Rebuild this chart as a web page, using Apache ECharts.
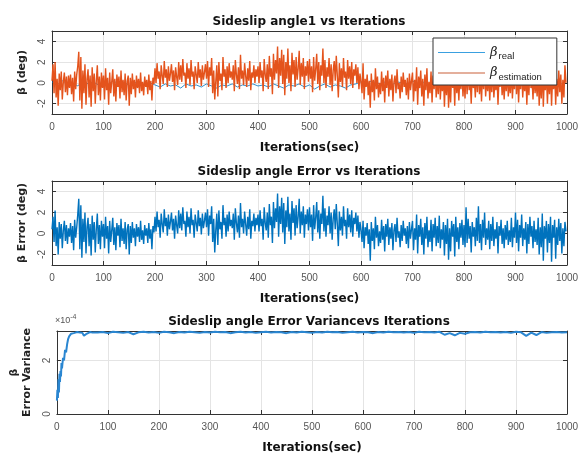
<!DOCTYPE html>
<html>
<head>
<meta charset="utf-8">
<script src="https://cdn.jsdelivr.net/npm/echarts@6/dist/echarts.min.js"></script>
<style>
html, body { margin: 0; padding: 0; background: #fff; }
#chart { width: 585px; height: 455px; }
</style>
</head>
<body>
<div id="chart"></div>
<script>
// sample spacing of the noisy series (iterations)
const iterStep = 2;
const realStep = 10;

// plot 1: estimated sideslip angle (deg), one value every 2 iterations, 50 iterations per row
const betaEstimation = [
    0.2, 1.8, -1.0, 2.0, -1.4, 0.4, -2.2, 0.9, -0.7, 1.1, -1.6, 0.1, 1.0, -0.9, 0.6, -1.2, 0.7, -0.5, 0.8, -1.1, 0.5, -1.8, 1.1, -0.6, 0.8,
    1.6, 3.0, -1.7, 2.5, -2.5, 1.2, -1.0, 1.8, -2.1, 0.4, 1.3, -1.4, 0.7, -2.3, 1.5, -0.8, 0.9, -2.0, 0.2, 1.7, -1.2, 0.6, -1.7, 1.0, -0.5,
    0.7, -1.6, 1.4, -0.7, 0.5, -2.1, 1.0, -1.0, 0.1, 1.3, -1.3, 0.4, -1.8, 0.8, -0.4, 0.6, -1.5, 1.2, -0.9, 0.3, -1.2, 0.9, -1.7, 0.2, 0.7,
    -2.2, 0.5, -1.1, 0.9, -0.6, 0.3, -1.4, 0.7, -0.5, 0.4, -1.0, 1.0, -0.8, 0.1, -1.2, 0.6, -0.4, 0.3, -1.1, 0.8, -0.7, 0.2, -1.7, 0.5, -0.1,
    1.4, 0.0, 1.9, 0.4, 1.1, -0.6, 1.7, 0.7, -0.1, 2.1, 0.5, 1.3, -0.4, 1.6, 0.2, 0.9, 1.8, 0.1, 1.2, -0.7, 1.5, 0.6, -0.2, 2.0, 0.3,
    1.7, 0.1, 2.3, 0.7, 1.0, -0.5, 1.9, 0.4, 1.4, -0.2, 2.2, 0.6, 1.1, -0.6, 1.6, 0.8, 0.0, 2.0, 0.5, 1.3, -0.3, 1.7, 0.3, 1.0, 1.8,
    0.4, 2.1, -0.4, 1.5, 0.7, 2.4, -1.0, 1.2, -1.6, 0.1, 1.7, -1.3, 2.0, 0.2, 0.9, -0.7, 2.5, 0.6, 1.3, -0.5, 1.6, 0.0, 1.9, 0.5, 1.1,
    0.3, 1.7, -0.8, 2.2, 0.8, -0.1, 1.5, -0.6, 2.7, 0.4, 1.2, -0.2, 1.9, 0.7, -0.4, 1.4, 0.2, 2.1, -0.7, 1.0, 0.5, 1.7, 0.0, 1.3, 0.6,
    1.6, 0.0, 2.0, 0.5, 1.2, -0.8, 2.3, 0.8, 0.1, 1.8, -0.6, 2.6, 0.6, 1.4, -1.1, 2.8, 0.3, 2.2, 0.9, 3.5, -0.5, 2.4, 0.7, 3.2, -0.1,
    2.7, -1.2, 2.0, 0.4, 3.3, 0.0, 1.7, -0.8, 2.9, 0.8, 2.2, -0.4, 2.5, 0.3, 1.4, 3.1, -0.2, 1.9, 0.6, 2.4, -0.6, 1.6, 0.7, 2.1, 0.1,
    2.3, 0.4, 1.6, -0.9, 2.5, 0.2, 1.3, 2.8, -0.1, 2.0, -0.7, 1.7, 0.7, 3.3, 0.0, 2.2, -0.5, 1.5, 0.6, 2.4, -0.2, 1.8, -0.8, 1.2, 2.1,
    0.2, 2.6, 0.7, -1.4, 1.9, 0.1, 1.4, -0.4, 2.4, 0.5, 1.1, -0.7, 2.2, 0.4, 1.6, -0.1, 2.0, -0.5, 1.3, 0.7, 1.8, 0.0, 1.5, -0.6, 0.9,
    0.1, -1.0, 1.9, -1.6, 0.4, -0.4, 0.8, -1.2, 0.2, -2.4, 0.9, -0.9, 0.3, -1.7, 1.4, -0.6, 0.6, -1.4, 0.0, -1.1, 1.1, -0.8, 0.5, -1.9, 0.7,
    -0.5, 1.2, -1.3, 0.4, -0.7, 0.8, -1.8, 0.1, 0.7, -1.0, 1.3, -0.6, 0.0, -1.5, 0.6, -0.9, 1.0, -0.4, 0.3, -1.2, 0.5, -1.6, 0.9, -0.7, 0.2,
    1.0, -1.8, 0.3, -0.8, 1.5, -2.1, 0.6, -0.5, 1.2, -1.3, 0.4, -2.2, 0.8, -0.7, 1.4, -1.5, 0.1, -1.0, 1.1, -1.9, 0.7, -0.6, 1.3, -1.4, 0.5,
    -1.1, 1.5, -1.6, 0.2, -0.8, 0.9, -2.3, 0.6, -1.2, 1.2, -2.4, 0.3, -1.9, 1.0, -0.5, 0.7, -2.2, 1.4, -1.0, 0.4, -1.7, 0.8, -0.6, 1.1, -1.3,
    0.6, -1.5, 1.6, -1.1, 1.2, -0.7, 0.5, -2.0, 0.9, -0.5, 0.4, -1.4, 1.3, -0.9, 1.5, -1.1, 0.7, -1.8, 1.1, -0.6, 1.4, -1.3, 0.3, -0.8, 1.0,
    -1.7, 0.7, -0.9, 1.4, -1.4, 0.2, -0.7, 0.9, -2.1, 0.5, -0.4, 1.1, -1.2, 0.3, -1.6, 0.6, -0.8, 1.0, -1.3, 0.1, -1.0, 1.3, -1.5, 0.4, -0.6,
    1.5, -1.1, 1.1, -1.9, 0.6, -0.6, 1.4, -1.4, 0.3, -0.8, 0.9, -2.1, 0.7, -1.2, 1.3, -0.5, 0.5, -1.6, 1.0, -1.0, 0.2, -1.3, 1.2, -2.2, 0.4,
    -1.5, 1.5, -2.3, 0.5, -0.7, 1.0, -2.0, 0.7, -1.1, 1.4, -2.2, 0.6, -0.6, 1.1, -2.1, 0.4, -1.3, 1.2, -0.9, 0.8, -2.0, 0.3, -1.4, 1.7, 0.0
];

// plot 1: real sideslip angle (deg), one value every 10 iterations
const betaReal = [
    0.1, -0.2, 0.2, -0.1, 0.0, -0.3, 0.2, -0.1, 0.1, -0.2,
    0.0, -0.1, 0.2, -0.2, 0.1, -0.3, 0.0, 0.1, -0.2, 0.0,
    -0.2, -0.4, -0.1, -0.3, -0.2, -0.5, -0.1, -0.3, -0.2, -0.4,
    -0.1, -0.3, -0.5, -0.2, -0.3, -0.1, -0.4, -0.2, -0.3, -0.1,
    -0.3, -0.2, -0.4, -0.1, -0.3, -0.5, -0.2, -0.3, -0.1, -0.4,
    -0.2, -0.6, -0.3, -0.1, -0.4, -0.2, -0.3, -0.5, -0.2, -0.1,
    0.1, -0.2, 0.2, 0.0, -0.1, 0.2, -0.2, 0.1, 0.0, -0.1,
    0.2, -0.1, 0.1, -0.2, 0.0, 0.1, -0.1, 0.2, -0.2, 0.0,
    0.1, -0.1, 0.2, 0.0, -0.2, 0.1, -0.1, 0.2, 0.0, -0.1,
    0.1, -0.2, 0.0, 0.2, -0.1, 0.1, -0.2, 0.0, 0.1, -0.1
];

// plot 2: sideslip angle error (deg), one value every 2 iterations, 50 iterations per row
const betaError = [
    0.4, 1.6, -0.8, 2.2, -1.2, 0.6, -2.0, 1.1, -0.5, 0.9, -1.4, 0.3, 1.2, -0.7, 0.8, -1.0, 0.5, -0.3, 1.0, -0.9, 0.7, -1.6, 1.3, -0.4, 0.6,
    1.8, 3.3, -1.5, 2.7, -2.3, 1.4, -0.8, 2.0, -1.9, 0.6, 1.5, -1.2, 0.9, -2.1, 1.7, -0.6, 1.1, -1.8, 0.4, 1.9, -1.0, 0.8, -1.5, 1.2, -0.3,
    0.9, -1.4, 1.6, -0.5, 0.7, -1.9, 1.2, -0.8, 0.3, 1.5, -1.1, 0.6, -1.6, 1.0, -0.2, 0.8, -1.3, 1.4, -0.7, 0.5, -1.0, 1.1, -1.5, 0.4, 0.9,
    -2.0, 0.7, -0.9, 1.1, -0.4, 0.5, -1.2, 0.9, -0.3, 0.6, -0.8, 1.2, -0.6, 0.3, -1.0, 0.8, -0.2, 0.5, -0.9, 1.0, -0.5, 0.4, -1.5, 0.7, 0.1,
    1.6, 0.2, 2.1, 0.6, 1.3, -0.4, 1.9, 0.9, 0.1, 2.3, 0.7, 1.5, -0.2, 1.8, 0.4, 1.1, 2.0, 0.3, 1.4, -0.5, 1.7, 0.8, 0.0, 2.2, 0.5,
    1.9, 0.3, 2.5, 0.9, 1.2, -0.3, 2.1, 0.6, 1.6, 0.0, 2.4, 0.8, 1.3, -0.4, 1.8, 1.0, 0.2, 2.2, 0.7, 1.5, -0.1, 1.9, 0.5, 1.2, 2.0,
    0.6, 2.3, -0.2, 1.7, 0.9, 2.6, -0.8, 1.4, -1.8, 0.3, 1.9, -1.1, 2.2, 0.4, 1.1, -0.5, 2.7, 0.8, 1.5, -0.3, 1.8, 0.2, 2.1, 0.7, 1.3,
    0.5, 1.9, -0.6, 2.4, 1.0, 0.1, 1.7, -0.4, 2.9, 0.6, 1.4, 0.0, 2.1, 0.9, -0.2, 1.6, 0.4, 2.3, -0.5, 1.2, 0.7, 1.9, 0.2, 1.5, 0.8,
    1.8, 0.2, 2.2, 0.7, 1.4, -0.6, 2.5, 1.0, 0.3, 2.0, -0.4, 2.8, 0.8, 1.6, -0.9, 3.0, 0.5, 2.4, 1.1, 3.8, -0.3, 2.6, 0.9, 3.4, 0.1,
    2.9, -1.0, 2.2, 0.6, 3.5, 0.2, 1.9, -0.6, 3.1, 1.0, 2.4, -0.2, 2.7, 0.5, 1.6, 3.3, 0.0, 2.1, 0.8, 2.6, -0.4, 1.8, 0.9, 2.3, 0.3,
    2.5, 0.6, 1.8, -0.7, 2.7, 0.4, 1.5, 3.0, 0.1, 2.2, -0.5, 1.9, 0.9, 3.6, 0.2, 2.4, -0.3, 1.7, 0.8, 2.6, 0.0, 2.0, -0.6, 1.4, 2.3,
    0.4, 2.8, 0.9, -1.2, 2.1, 0.3, 1.6, -0.2, 2.6, 0.7, 1.3, -0.5, 2.4, 0.6, 1.8, 0.1, 2.2, -0.3, 1.5, 0.9, 2.0, 0.2, 1.7, -0.4, 1.1,
    0.3, -0.8, 1.2, -1.4, 0.6, -0.2, 1.0, -1.0, 0.4, -2.6, 1.1, -0.7, 0.5, -1.5, 1.6, -0.4, 0.8, -1.2, 0.2, -0.9, 1.3, -0.6, 0.7, -1.7, 0.9,
    -0.3, 1.4, -1.1, 0.6, -0.5, 1.0, -1.6, 0.3, 0.9, -0.8, 1.5, -0.4, 0.2, -1.3, 0.8, -0.7, 1.2, -0.2, 0.5, -1.0, 0.7, -1.4, 1.1, -0.5, 0.4,
    1.2, -1.6, 0.5, -0.6, 1.8, -1.9, 0.8, -0.3, 1.4, -1.1, 0.6, -2.0, 1.0, -0.5, 1.6, -1.3, 0.3, -0.8, 1.3, -1.7, 0.9, -0.4, 1.5, -1.2, 0.7,
    -0.9, 1.7, -1.4, 0.4, -0.6, 1.1, -2.1, 0.8, -1.0, 1.4, -2.5, 0.5, -1.7, 1.2, -0.3, 0.9, -2.2, 1.6, -0.8, 0.6, -1.5, 1.0, -0.4, 1.3, -1.1,
    0.8, -1.3, 2.5, -0.9, 1.4, -0.5, 0.7, -1.8, 1.1, -0.3, 0.6, -1.2, 1.5, -0.7, 2.6, -0.9, 0.9, -1.6, 1.3, -0.4, 2.0, -1.1, 0.5, -0.6, 1.2,
    -1.5, 0.9, -0.7, 1.6, -1.2, 0.4, -0.5, 1.1, -1.9, 0.7, -0.2, 1.3, -1.0, 0.5, -1.4, 0.8, -0.6, 1.2, -1.1, 0.3, -0.8, 1.5, -1.3, 0.6, -0.4,
    2.0, -0.9, 1.3, -1.7, 0.8, -0.4, 1.8, -1.2, 0.5, -0.6, 1.1, -1.9, 0.9, -1.0, 1.6, -0.3, 0.7, -1.4, 1.2, -0.8, 0.4, -1.1, 1.5, -2.0, 0.6,
    -1.3, 1.9, -2.6, 0.7, -0.5, 1.2, -1.8, 0.9, -0.9, 1.6, -2.7, 0.8, -0.4, 1.3, -2.4, 0.6, -1.1, 1.4, -0.7, 1.0, -1.9, 0.5, -1.2, 1.1, 0.2
];

// plot 3: error variance (x 1e-4), start-up part
const varianceEarlyIter = [0, 1, 2, 3, 4, 5, 6, 7, 8, 9, 10, 12, 14, 16, 18, 20, 22, 24, 26, 28, 30, 33, 36, 40, 45, 50, 53, 55, 57, 60, 65, 70];
const varianceEarly = [0.5, 0.9, 0.6, 1.3, 0.8, 1.5, 1.2, 1.6, 1.4, 1.9, 1.7, 2.1, 2.0, 2.4, 2.3, 2.6, 2.8, 2.9, 2.95, 3.0, 3.04, 3.02, 3.05, 3.06, 3.04, 3.03, 2.92, 2.85, 2.98, 3.05, 3.06, 3.04];
// plot 3: steady part, iterations 80..1000 every 10
const varianceTailStart = 80;
const varianceTailStep = 10;
const varianceTail = [
    3.04, 3.06, 3.02, 3.07, 3.05, 3.03, 3.06, 2.98, 3.05, 3.07,
    3.04, 3.06, 3.03, 3.07, 3.05, 3.02, 3.06, 3.04, 3.07, 3.05,
    3.03, 3.06, 3.04, 3.07, 3.05, 3.06, 3.02, 3.05, 3.07, 3.04,
    3.06, 3.03, 3.05, 3.07, 3.04, 3.06, 3.05, 3.02, 3.06, 3.04,
    3.07, 3.05, 3.03, 3.06, 3.04, 3.07, 3.05, 3.06, 3.03, 3.05,
    3.07, 3.04, 3.06, 3.05, 3.02, 3.06, 3.04, 3.07, 3.05, 3.06,
    3.04, 3.06, 3.03, 3.07, 3.05, 3.06, 3.04, 3.07, 2.96, 3.02,
    2.94, 3.03, 3.00, 3.05, 3.06, 3.04, 3.07, 3.05, 3.06, 3.04,
    3.06, 3.03, 3.07, 3.05, 2.92, 3.04, 2.95, 3.06, 3.03, 3.05,
    3.06, 3.04, 3.05
];

const angleTicks = [-2, 0, 2, 4];
const varianceTicks = [0, 2];

const titles = ['Sideslip angle1 vs Iterations', 'Sideslip angle Error vs Iterations', 'Sideslip angle Error Variancevs Iterations'];
const yNames = ['β (deg)', 'β Error (deg)', 'β\nError Variance'];

const BLUE = '#0072BD';
const ORANGE = '#E4531C';
const AXIS = '#333';
const GRID = '#e4e4e4';
const BOLD_FONT = 'DejaVu Sans';
const TICK_FONT = 'Liberation Sans';

const gridTops = [31, 181, 331];
const gridHeights = [83, 84, 84];
const titleCenter = 304;

function toPairs(values, step) {
    return values.map((v, i) => [i * step, v]);
}

function xAxes(gridIndex) {
    return [
        {
            type: 'value', gridIndex: gridIndex, position: 'bottom',
            min: 0, max: 1000, interval: 100,
            name: 'Iterations(sec)', nameLocation: 'middle', nameGap: 28,
            nameTextStyle: { fontSize: 12, fontWeight: 'bold', color: '#111', fontFamily: BOLD_FONT },
            axisLine: { onZero: false, lineStyle: { color: AXIS } },
            axisTick: { inside: true, length: 4, lineStyle: { color: AXIS } },
            axisLabel: { fontSize: 10, color: '#555', margin: 8, fontFamily: TICK_FONT, formatter: v => String(v) },
            splitLine: { show: true, lineStyle: { color: GRID } }
        },
        {
            type: 'value', gridIndex: gridIndex, position: 'top',
            min: 0, max: 1000, interval: 100,
            axisLine: { onZero: false, lineStyle: { color: AXIS } },
            axisTick: { inside: true, length: 4, lineStyle: { color: AXIS } },
            axisLabel: { show: false },
            splitLine: { show: false }
        }
    ];
}

function yAxes(gridIndex, min, max, ticks, name, nameGap) {
    return [
        {
            type: 'value', gridIndex: gridIndex, position: 'left',
            min: min, max: max,
            name: name, nameLocation: 'middle', nameGap: nameGap, nameRotate: 90,
            nameTextStyle: { fontSize: 11, fontWeight: 'bold', color: '#222', lineHeight: 13, fontFamily: BOLD_FONT },
            axisLine: { onZero: false, lineStyle: { color: AXIS } },
            axisTick: { inside: true, length: 4, customValues: ticks, lineStyle: { color: AXIS } },
            axisLabel: { fontSize: 10, color: '#555', margin: 5, rotate: 90, customValues: ticks, fontFamily: TICK_FONT },
            splitLine: { show: true, lineStyle: { color: GRID } }
        },
        {
            type: 'value', gridIndex: gridIndex, position: 'right',
            min: min, max: max,
            axisLine: { onZero: false, lineStyle: { color: AXIS } },
            axisTick: { inside: true, length: 4, customValues: ticks, lineStyle: { color: AXIS } },
            axisLabel: { show: false },
            splitLine: { show: false }
        }
    ];
}

const varianceData = varianceEarlyIter.map((it, i) => [it, varianceEarly[i]])
    .concat(varianceTail.map((v, i) => [varianceTailStart + i * varianceTailStep, v]));

const option = {
    animation: false,
    backgroundColor: '#fff',
    title: titles.map((t, i) => ({
        text: t,
        left: titleCenter,
        top: gridTops[i] - 20,
        textAlign: 'center',
        textStyle: { fontSize: 12, fontWeight: 'bold', color: '#111', fontFamily: BOLD_FONT }
    })),
    grid: gridTops.map((top, i) => ({ left: 52, right: 18, top: top, height: gridHeights[i], containLabel: false })),
    xAxis: [].concat(xAxes(0), xAxes(1), xAxes(2)),
    yAxis: [].concat(
        yAxes(0, -3, 5, angleTicks, yNames[0], 22),
        yAxes(1, -3, 5, angleTicks, yNames[1], 22),
        yAxes(2, 0, 3.1, varianceTicks, yNames[2], 18)
    ),
    legend: {
        data: ['real', 'estimation'],
        orient: 'vertical',
        left: 433,
        top: 38,
        icon: 'rect',
        itemWidth: 47,
        itemHeight: 1.2,
        itemGap: 5,
        padding: [8, 15, 3, 5],
        backgroundColor: '#fff',
        borderColor: AXIS,
        borderWidth: 1,
        borderRadius: 0,
        formatter: name => '{b|β}{s|' + name + '}',
        textStyle: {
            rich: {
                b: { fontSize: 13, fontStyle: 'italic', color: '#222', fontFamily: 'DejaVu Serif', height: 16 },
                s: { fontSize: 9.5, color: '#222', padding: [8, 0, 0, 1], fontFamily: TICK_FONT }
            }
        }
    },
    graphic: [{
        type: 'text',
        left: 55,
        top: 314,
        style: {
            text: '{m|×10}{e|-4}',
            rich: {
                m: { fontSize: 9, fill: '#555', fontFamily: TICK_FONT },
                e: { fontSize: 7, fill: '#555', padding: [0, 0, 6, 0], fontFamily: TICK_FONT }
            }
        }
    }],
    series: [
        {
            name: 'real', type: 'line', xAxisIndex: 0, yAxisIndex: 0,
            data: toPairs(betaReal, realStep),
            symbol: 'none', lineStyle: { color: BLUE, width: 0.8 }, itemStyle: { color: '#3aa0e0' }
        },
        {
            name: 'estimation', type: 'line', xAxisIndex: 0, yAxisIndex: 0,
            data: toPairs(betaEstimation, iterStep),
            symbol: 'none', lineStyle: { color: ORANGE, width: 1.4 }, itemStyle: { color: '#c9603a' }
        },
        {
            name: 'error', type: 'line', xAxisIndex: 2, yAxisIndex: 2,
            data: toPairs(betaError, iterStep),
            symbol: 'none', lineStyle: { color: BLUE, width: 1.4 }
        },
        {
            name: 'variance', type: 'line', xAxisIndex: 4, yAxisIndex: 4,
            data: varianceData,
            symbol: 'none', lineStyle: { color: '#2a86d1', width: 2 }
        }
    ]
};

echarts.init(document.getElementById('chart')).setOption(option);
</script>
</body>
</html>
